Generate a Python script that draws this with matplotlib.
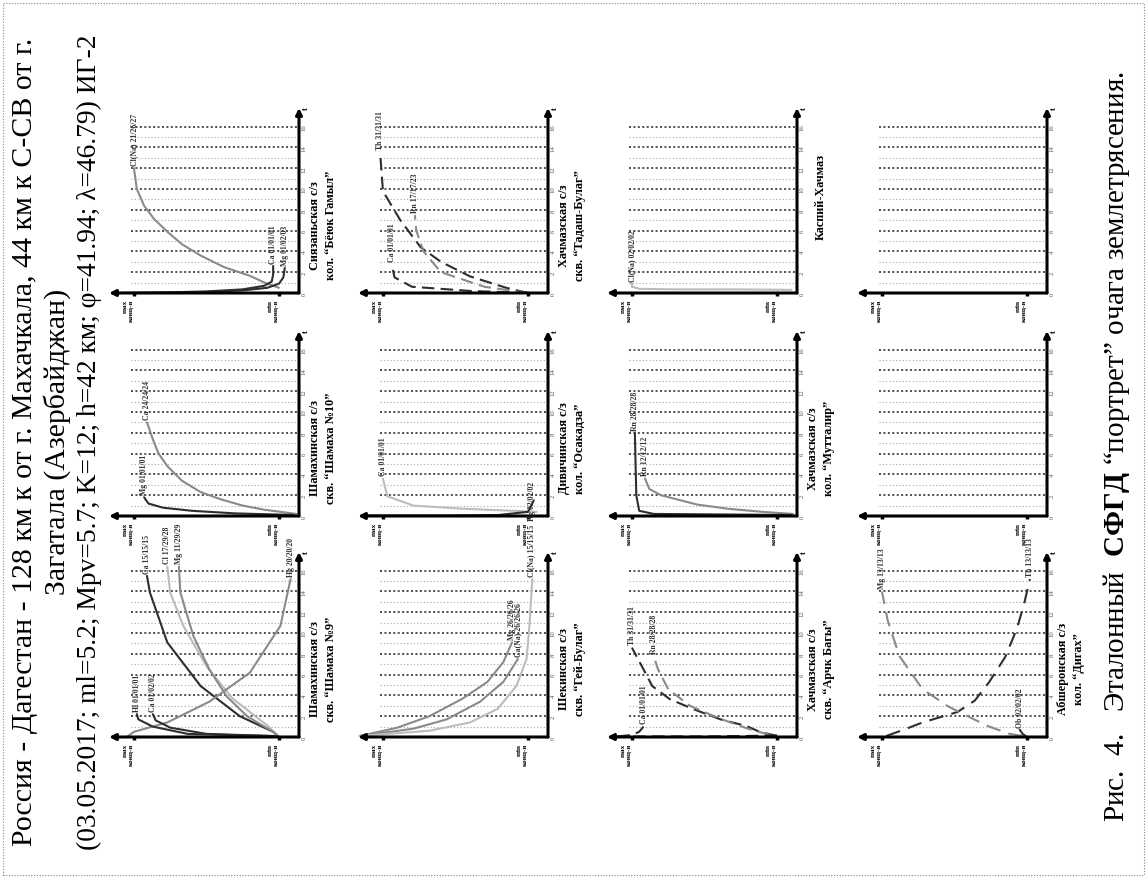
import numpy as np
import matplotlib.pyplot as plt

plt.rcParams['font.family'] = ['Liberation Serif', 'DejaVu Serif']
plt.rcParams['mathtext.fontset'] = 'custom'
plt.rcParams['mathtext.rm'] = 'Liberation Serif'
plt.rcParams['mathtext.bf'] = 'Liberation Serif:bold'

W, H = 1148, 879
fig = plt.figure(figsize=(W / 100, H / 100), dpi=100)

# положение панелей на повёрнутой странице (пиксели)
axis_x = [299, 548, 797, 1047]
zero_y = [294, 517, 738]
PW, PH = 190, 185
T_TOP = 17.8
C_LEFT, C_RIGHT = 1.172, -0.138
t_ticks = list(range(0, 17, 2))

DARK, GRAY, LIGHT = '#2e2e2e', '#8a8a8a', '#bcbcbc'
DASH = (0, (6, 3))

# ---- данные кривых: концентрация (0=min, 1=max) и время t ----
# Сиязань, "Бёюк Гамыл"
sz_na_c = [0.0, 0.1, 0.2, 0.38, 0.54, 0.67, 0.77, 0.86, 0.93, 0.98, 1.0]
sz_na_t = [0.5, 1.0, 1.65, 2.5, 3.6, 4.7, 5.9, 7.1, 8.4, 10.0, 12.0]
sz_ca_c = [1.1, 0.8, 0.5, 0.25, 0.1, 0.05, 0.04, 0.04]
sz_ca_t = [0.0, 0.05, 0.15, 0.35, 0.7, 1.1, 1.8, 2.6]
sz_mg_c = [1.1, 0.8, 0.5, 0.25, 0.08, 0.0, -0.03, -0.04]
sz_mg_t = [0.0, 0.03, 0.1, 0.25, 0.5, 0.9, 1.5, 2.4]

# Шамаха №10
s10_a_c = [-0.12, 0.1, 0.25, 0.4, 0.54, 0.67, 0.77, 0.83, 0.87, 0.91]
s10_a_t = [0.2, 0.6, 1.0, 1.6, 2.3, 3.4, 4.8, 6.0, 7.4, 9.0]
s10_b_c = [-0.1, 0.3, 0.6, 0.8, 0.9, 0.93]
s10_b_t = [0.1, 0.25, 0.5, 0.8, 1.2, 1.8]

# Шамаха №9
s9_a_c = [0.0, 0.04, 0.27, 0.54, 0.77, 0.89, 0.91]
s9_a_t = [0.0, 0.5, 2.0, 4.9, 9.1, 13.9, 15.5]
s9_b_c = [0.0, 0.08, 0.32, 0.5, 0.66, 0.75, 0.77]
s9_b_t = [0.0, 1.1, 3.7, 6.8, 10.7, 13.9, 16.4]
s9_f_c = [0.0, 0.04, 0.22, 0.36, 0.48, 0.59, 0.68, 0.69]
s9_f_t = [0.0, 0.5, 2.0, 3.9, 6.5, 9.7, 13.9, 16.4]
s9_c_c = [1.05, 1.0, 0.77, 0.48, 0.2, -0.01, -0.08]
s9_c_t = [0.0, 0.5, 1.4, 3.4, 6.2, 10.7, 15.2]
s9_d_c = [0.0, 0.08, 0.63, 0.87, 0.97, 0.98]
s9_d_t = [0.0, 0.1, 0.3, 1.0, 1.7, 2.2]
s9_e_c = [0.0, 0.05, 0.5, 0.75, 0.85, 0.87]
s9_e_t = [0.0, 0.1, 0.3, 0.9, 1.6, 2.2]

# Тадаш-Булаг
tb_a_c = [0.0, 0.15, 0.4, 0.6, 0.74, 0.88, 1.0, 1.02]
tb_a_t = [0.0, 0.5, 1.6, 3.0, 4.4, 7.0, 9.8, 13.6]
tb_b_c = [0.0, 0.3, 0.6, 0.72, 0.77, 0.78]
tb_b_t = [0.0, 0.6, 2.0, 4.0, 6.0, 7.5]
tb_c_c = [0.0, 0.4, 0.8, 0.92, 0.94]
tb_c_t = [0.0, 0.2, 0.6, 1.5, 2.8]

# Осакадза
od_a_c = [-0.06, 0.1, 0.45, 0.79, 0.97, 1.0]
od_a_t = [0.4, 0.5, 0.7, 1.0, 1.9, 3.6]
od_b_c = [1.1, 0.6, 0.2, 0.0, -0.04]
od_b_t = [0.05, 0.05, 0.1, 0.4, 1.5]

# Гей-Булаг
gb_a_c = [1.16, 0.90, 0.68, 0.45, 0.28, 0.17, 0.11]
gb_a_t = [0.1, 0.9, 2.0, 3.7, 5.3, 7.2, 9.1]
gb_b_c = [1.16, 0.79, 0.56, 0.33, 0.17, 0.07]
gb_b_t = [0.1, 0.8, 1.7, 3.4, 5.3, 7.5]
gb_c_c = [1.16, 0.68, 0.4, 0.21, 0.08, 0.01, -0.01, -0.03]
gb_c_t = [0.1, 0.6, 1.4, 2.7, 4.9, 7.5, 10.7, 15.2]

# Каспий-Хачмаз
kh_a_c = [-0.1, 0.3, 0.7, 0.95, 1.0, 1.0]
kh_a_t = [0.3, 0.35, 0.35, 0.4, 0.6, 0.9]

# Мутталир
mt_a_c = [-0.11, 0.1, 0.34, 0.55, 0.69, 0.8, 0.88, 0.91]
mt_a_t = [0.2, 0.4, 0.7, 1.1, 1.6, 2.0, 2.6, 3.6]
mt_b_c = [-0.1, 0.4, 0.85, 0.95, 0.97, 0.98]
mt_b_t = [0.1, 0.15, 0.2, 0.5, 2.0, 8.0]

# Арчк Багы
ab_a_c = [0.0, 0.12, 0.21, 0.39, 0.58, 0.74, 0.86, 0.92, 0.97, 1.0]
ab_a_t = [0.1, 0.5, 1.05, 1.7, 2.7, 3.65, 4.9, 6.5, 7.8, 8.6]
ab_b_c = [0.05, 0.2, 0.4, 0.6, 0.75, 0.82, 0.85]
ab_b_t = [0.2, 0.8, 1.8, 3.0, 4.6, 6.5, 7.8]
ab_c_c = [0.0, 0.2, 0.5, 0.8, 1.1]
ab_c_t = [0.15, 0.1, 0.05, 0.05, 0.05]
ab_d_c = [1.1, 1.0, 0.95, 0.92]
ab_d_t = [0.05, 0.2, 0.5, 1.0]

# Дигах
dg_a_c = [0.97, 0.85, 0.72, 0.6, 0.48, 0.36, 0.26, 0.15, 0.07, 0.02, -0.02]
dg_a_t = [0.1, 0.7, 1.4, 1.9, 2.4, 3.5, 5.3, 7.7, 10.4, 12.8, 15.2]
dg_b_c = [0.03, 0.12, 0.26, 0.44, 0.55, 0.72, 0.88, 0.96, 1.0]
dg_b_t = [0.1, 0.3, 1.0, 2.2, 3.0, 4.6, 7.8, 11.2, 14.0]
dg_c_c = [0.0, 0.03, 0.05]
dg_c_t = [0.0, 0.3, 0.7]

# (колонка, ряд) -> подпись станции
stations = {
    (0, 0): 'Сиязаньская с/з\nкол. “Бёюк Гамыл”',
    (0, 1): 'Шамахинская с/з\nскв. “Шамаха №10”',
    (0, 2): 'Шамахинская с/з\nскв. “Шамаха №9”',
    (1, 0): 'Хачмазская с/з\nскв. “Тадаш-Булаг”',
    (1, 1): 'Дивичинская с/з\nкол. “Осакадза”',
    (1, 2): 'Шекинская с/з\nскв. “Гей-Булаг”',
    (2, 0): 'Каспий-Хачмаз',
    (2, 1): 'Хачмазская с/з\nкол. “Мутталир”',
    (2, 2): 'Хачмазская с/з\nскв. “Арчк Багы”',
    (3, 0): '',
    (3, 1): '',
    (3, 2): 'Абшеронская с/з\nкол. “Дигах”',
}

# кривые: (c, t, цвет, стиль, подпись)
curves = {
    (0, 0): [(sz_na_c, sz_na_t, GRAY, '-', 'Cl(Na) 21/26/27'),
             (sz_ca_c, sz_ca_t, DARK, '-', 'Ca 01/01/01'),
             (sz_mg_c, sz_mg_t, DARK, '-', 'Mg 01/02/03')],
    (0, 1): [(s10_a_c, s10_a_t, GRAY, '-', 'Ca 24/24/24'),
             (s10_b_c, s10_b_t, DARK, '-', 'Mg 01/01/01')],
    (0, 2): [(s9_a_c, s9_a_t, DARK, '-', 'Ca 15/15/15'),
             (s9_b_c, s9_b_t, LIGHT, '-', 'Cl 17/29/28'),
             (s9_f_c, s9_f_t, GRAY, '-', 'Mg 11/29/29'),
             (s9_c_c, s9_c_t, GRAY, '-', 'Hg 20/20/20'),
             (s9_d_c, s9_d_t, DARK, '-', 'Hl 01/01/01'),
             (s9_e_c, s9_e_t, DARK, '-', 'Ca 01/02/02')],
    (1, 0): [(tb_a_c, tb_a_t, DARK, DASH, 'Th 31/31/31'),
             (tb_b_c, tb_b_t, GRAY, DASH, 'Rn 17/17/23'),
             (tb_c_c, tb_c_t, DARK, DASH, 'Ca 01/01/01')],
    (1, 1): [(od_a_c, od_a_t, LIGHT, '-', 'Ca 01/01/01'),
             (od_b_c, od_b_t, DARK, '-', '')],
    (1, 2): [(gb_a_c, gb_a_t, GRAY, '-', 'Mg 26/26/26'),
             (gb_b_c, gb_b_t, GRAY, '-', 'Ca(Na) 26/26/26'),
             (gb_c_c, gb_c_t, LIGHT, '-', 'Cl(Na) 15/15/15  Hg 02/02/02')],
    (2, 0): [(kh_a_c, kh_a_t, LIGHT, '-', 'Cl(Na) 02/02/02')],
    (2, 1): [(mt_a_c, mt_a_t, GRAY, '-', 'Rn 12/12/12'),
             (mt_b_c, mt_b_t, DARK, '-', 'Rn 28/28/28')],
    (2, 2): [(ab_a_c, ab_a_t, DARK, DASH, 'Th 31/31/31'),
             (ab_b_c, ab_b_t, GRAY, DASH, 'Rn 28/28/28'),
             (ab_c_c, ab_c_t, DARK, DASH, ''),
             (ab_d_c, ab_d_t, DARK, DASH, 'Ca 01/01/01')],
    (3, 2): [(dg_a_c, dg_a_t, DARK, (0, (7, 4)), 'Th 13/13/13'),
             (dg_b_c, dg_b_t, GRAY, (0, (7, 4)), 'Mg 13/13/13'),
             (dg_c_c, dg_c_t, DARK, '-', 'Ob 02/02/02')],
}


def panel(col, row):
    x0 = axis_x[col] - PW
    y0 = zero_y[row]
    ax = fig.add_axes([x0 / W, 1 - y0 / H, PW / W, PH / H])
    ax.set_xlim(C_LEFT, C_RIGHT)
    ax.set_ylim(0, T_TOP)
    ax.patch.set_alpha(0)
    for s in ax.spines.values():
        s.set_visible(False)

    # пунктирная сетка
    for t in range(1, 17):
        if t % 2 == 0:
            ax.plot([1.02, C_RIGHT], [t, t], color='#1e1e1e', lw=1.1,
                    ls=(0, (1.3, 1.6)), zorder=1)
        else:
            ax.plot([1.02, C_RIGHT], [t, t], color='#a8a8a8', lw=0.8,
                    ls=(0, (1, 2)), zorder=1)

    # оси со стрелками
    arr = dict(arrowstyle='-|>', color='k', lw=2.2, mutation_scale=9,
               shrinkA=0, shrinkB=0)
    ax.annotate('', xy=(1, 1), xytext=(1, 0), xycoords='axes fraction',
                arrowprops=arr, zorder=5)
    ax.annotate('', xy=(0, 0), xytext=(1, 0), xycoords='axes fraction',
                arrowprops=arr, zorder=5)
    ax.text(1.015, 1.0, 't', transform=ax.transAxes, rotation=90,
            fontsize=6, fontweight='bold', ha='left', va='center')

    ax.yaxis.tick_right()
    ax.set_yticks(t_ticks)
    ax.set_yticklabels([str(v) for v in t_ticks], rotation=90,
                       fontsize=4.8, color='#555555', va='center')
    ax.tick_params(axis='y', length=0, pad=2)

    ax.set_xticks([1, 0])
    ax.set_xticklabels(['max\nконц-я', 'min\nконц-я'], rotation=90,
                       fontsize=5.2, fontweight='bold', ha='right', va='top',
                       multialignment='right')
    ax.tick_params(axis='x', length=2.5, width=2.5, direction='out', pad=1.5)

    label = stations[(col, row)]
    if label:
        tc = 9.3 if '\n' not in label else 6.6
        ax.text(1.0 + 24 / PW, tc / T_TOP, label, transform=ax.transAxes,
                rotation=90, ha='center', va='center', fontsize=8.8,
                fontweight='bold', multialignment='center', linespacing=1.35)

    for c, t, color, ls, name in curves.get((col, row), []):
        ax.plot(c, t, color=color, lw=1.5, ls=ls, zorder=3,
                solid_capstyle='round', solid_joinstyle='round', clip_on=False)
        if name:
            ax.text(c[-1], t[-1] + 0.3, name, rotation=90, rotation_mode='anchor',
                    ha='left', va='center', fontsize=5.6, fontweight='bold',
                    color='#333333', clip_on=False, zorder=4)


for col in range(4):
    for row in range(3):
        panel(col, row)

# заголовок (повернут)
title_lines = ['Россия - Дагестан - 128 км к от г. Махачкала, 44 км к С-СВ от г.',
               'Загатала (Азербайджан)',
               '(03.05.2017; ml=5.2; Mpv=5.7; K=12; h=42 км; φ=41.94; λ=46.79) ИГ-2']
title_x = [25, 57, 89]
title_fs = [21.5, 21.5, 19.8]
for txt, x, fs in zip(title_lines, title_x, title_fs):
    fig.text(x / W, 1 - 442 / H, txt, rotation=90, ha='center', va='center',
             fontsize=fs)

fig.text(1117 / W, 1 - 447 / H,
         'Рис.  4.   Эталонный  $\\mathbf{СФГД}$ “портрет” очага землетрясения.',
         rotation=90, ha='center', va='center', fontsize=21)

# пунктирная рамка
frame = plt.Rectangle((3 / W, 3 / H), (W - 7) / W, (H - 7) / H, transform=fig.transFigure,
                      fill=False, ls=(0, (1, 1.5)), lw=0.8, ec='#888888')
fig.patches.append(frame)

fig.savefig('out.png', dpi=100, facecolor='white')
